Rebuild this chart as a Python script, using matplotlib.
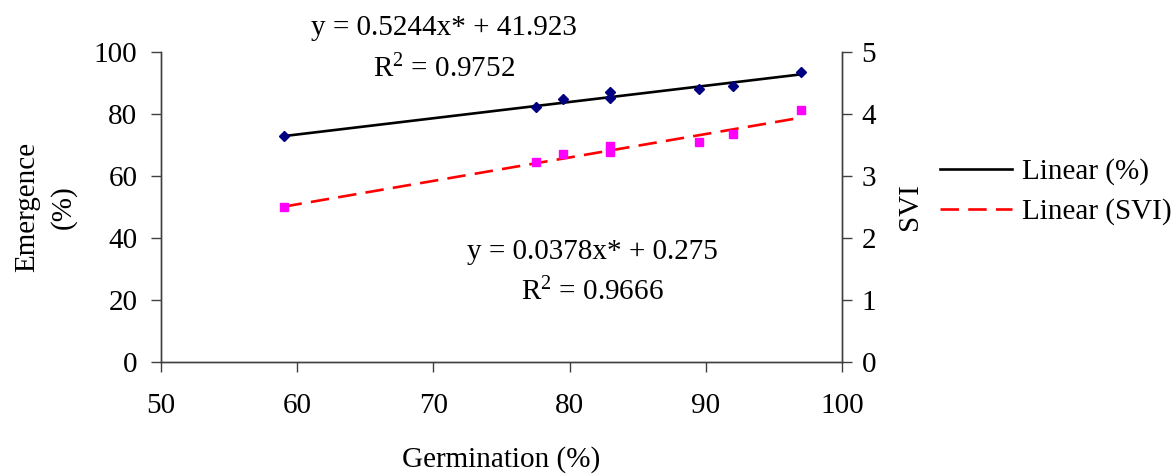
import numpy as np
import matplotlib.pyplot as plt
from matplotlib.lines import Line2D

plt.rcParams['font.family'] = ['Liberation Serif', 'DejaVu Serif']
plt.rcParams['font.size'] = 21

# germination (%) vs emergence (%) and seedling vigour index
germination = [59, 77.5, 79.5, 83, 83, 89.5, 92, 97]
emergence = [72.9, 82.4, 84.8, 87.1, 85.1, 88.1, 88.9, 93.6]
svi = [2.5, 3.23, 3.35, 3.49, 3.38, 3.55, 3.68, 4.06]

# trend line coefficients (slope, intercept, r2)
fit_em = (0.5244, 41.923, 0.9752)
fit_svi = (0.0378, 0.275, 0.9666)

spine_col = '#404040'

fig = plt.figure(figsize=(11.74, 4.74), dpi=100)
ax = fig.add_axes([0.1371, 0.2363, 0.5801, 0.654])
ax2 = ax.twinx()

xs = np.array([min(germination), max(germination)])

ax.plot(germination, emergence, linestyle='none', marker='D', ms=5,
        color='#000080', zorder=3)
ax.plot(xs, fit_em[0] * xs + fit_em[1], color='black', lw=1.9, zorder=2)

ax2.plot(germination, svi, linestyle='none', marker='s', ms=5.8,
         color='#ff00ff', zorder=3)
ax2.plot(xs, fit_svi[0] * xs + fit_svi[1], color='#ff0000', lw=1.9,
         dashes=(7, 3.5), zorder=2)

ax.set_xlim(50, 100)
ax.set_ylim(0, 100)
ax2.set_ylim(0, 5)
ax.set_xticks(range(50, 101, 10))
ax.set_yticks(range(0, 101, 20))
ax2.set_yticks(range(0, 6))

for a in (ax, ax2):
    a.spines['top'].set_visible(False)
    for s in a.spines.values():
        s.set_color(spine_col)
        s.set_linewidth(1.0)
    a.tick_params(direction='out', length=7, width=1.0, color=spine_col)
ax.tick_params(axis='x', pad=15)
ax.tick_params(axis='y', pad=10)
ax2.tick_params(axis='y', pad=7)

ax.set_xlabel('Germination (%)', labelpad=20)
ax.set_ylabel('Emergence\n(%)', linespacing=1.5, labelpad=12)
ax2.set_ylabel('SVI', labelpad=15)

ax.text(70.8, 101, 'y = %.4fx* + %.3f\n$\\mathregular{R^2}$ = %.4f'
        % fit_em, ha='center', va='center', linespacing=1.6,
        clip_on=False)
ax.text(81.7, 28.8, 'y = %.4fx* + %.3f\n$\\mathregular{R^2}$ = %.4f'
        % fit_svi, ha='center', va='center', linespacing=1.6)

handles = [Line2D([], [], color='black', lw=1.9),
           Line2D([], [], color='#ff0000', lw=1.9, dashes=(7, 3.5))]
fig.legend(handles, ['Linear (%)', 'Linear (SVI)'], loc='center left',
           bbox_to_anchor=(0.791, 0.595), frameon=False, handlelength=2.45,
           handletextpad=0.35, labelspacing=0.45, borderaxespad=0)

fig.savefig('out.png', dpi=100)
